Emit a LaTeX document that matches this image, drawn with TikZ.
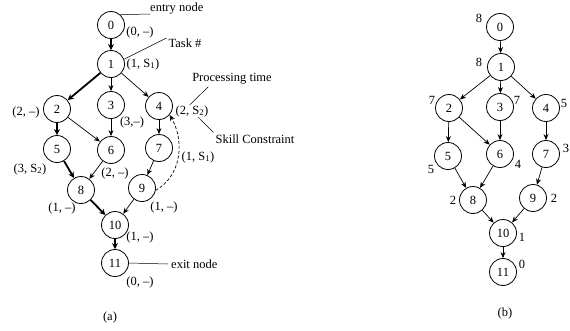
\documentclass[tikz,border=0pt]{standalone}
\usepackage{fontspec}
\setmainfont{Liberation Serif}
\usetikzlibrary{arrows.meta,positioning,calc}

\begin{document}
\begin{tikzpicture}[x=1pt, y=1pt,
  font=\fontsize{12.5}{15}\selectfont,
  task/.style={draw, circle, minimum size=27pt, inner sep=0pt, line width=0.8pt},
  attr/.style={inner sep=0pt},
  note/.style={inner sep=2pt},
  ptr/.style={->, >={Stealth[length=6pt, width=5pt]}, line width=0.7pt},
  crit/.style={->, >={Stealth[length=6pt, width=6pt]}, line width=1.8pt},
  pin/.style={line width=0.5pt}
]
\useasboundingbox (0,0) rectangle (570,-330);

% (a) task graph
\node[task] (a0) at (111,-25) {0};
\node[task] (a1) at (111,-64) {1};
\node[task] (a2) at (57,-109) {2};
\node[task] (a3) at (111,-105) {3};
\node[task] (a4) at (159,-106) {4};
\node[task] (a5) at (57,-149) {5};
\node[task] (a6) at (111,-150) {6};
\node[task] (a7) at (159,-148) {7};
\node[task] (a8) at (81,-190) {8};
\node[task] (a9) at (142,-188) {9};
\node[task] (a10) at (115,-225) {10};
\node[task] (a11) at (115,-263) {11};

\node[attr] (la0) at (140,-32) {(0, –)};
\node[attr] (la1) at (143,-64) {(1, S\textsubscript{1})};
\node[attr] (la2) at (26,-112) {(2, –)};
\node[attr] (la3) at (132,-122) {(3,–)};
\node[attr] (la4) at (192,-111) {(2, S\textsubscript{2})};
\node[attr] (la5) at (30,-169) {(3, S\textsubscript{2})};
\node[attr] (la6) at (115,-173) {(2, –)};
\node[attr] (la7) at (198,-157) {(1, S\textsubscript{1})};
\node[attr] (la8) at (62,-208) {(1, –)};
\node[attr] (la9) at (164,-207) {(1, –)};
\node[attr] (la10) at (140,-237) {(1, –)};
\node[attr] (la11) at (140,-282) {(0, –)};

\node[attr, anchor=south west] (entry) at (150,-14) {entry node};
\node[note] (tasknum) at (185,-43) {Task \#};
\node[note] (ptime) at (232,-79) {Processing time};
\node[note] (skill) at (255,-139) {Skill Constraint};
\node[note, inner sep=3pt, anchor=west] (exitn) at (168,-264) {exit node};

\draw[pin] (a0.48) -- (entry.south west);
\draw[pin] (a1.20) -- (tasknum.165);
\draw[pin] (la4.north west) ++(14,0) -- (ptime.198);
\draw[pin] (la4.south) ++(6,0) -- (skill.north west);
\draw[pin] (a11.east) -- (exitn.west);

\draw[crit] (a0) -- (a1);
\draw[crit] (a1) -- (a2);
\draw[ptr] (a1) -- (a3);
\draw[ptr] (a1) -- (a4);
\draw[crit] (a2) -- (a5);
\draw[ptr] (a2) -- (a6);
\draw[ptr] (a3) -- (a6);
\draw[ptr] (a4) -- (a7);
\draw[crit] (a5) -- (a8);
\draw[ptr] (a6) -- (a8);
\draw[ptr] (a7) -- (a9);
\draw[crit] (a8) -- (a10);
\draw[ptr] (a9) -- (a10);
\draw[crit] (a10) -- (a11);
\draw[ptr, dash pattern=on 3pt off 2pt] (a9.-10) to[out=30, in=-60] (a4.-40);

\node (capa) at (110,-317) {(a)};

% (b) priority values
\node[task] (b0) at (500,-27) {0};
\node[task] (b1) at (501,-67) {1};
\node[task] (b2) at (449,-108) {2};
\node[task] (b3) at (500,-107) {3};
\node[task] (b4) at (546,-108) {4};
\node[task] (b5) at (448,-156) {5};
\node[task] (b6) at (500,-154) {6};
\node[task] (b7) at (546,-154) {7};
\node[task] (b8) at (473,-200) {8};
\node[task] (b9) at (533,-198) {9};
\node[task] (b10) at (503,-233) {10};
\node[task] (b11) at (503,-272) {11};

\node[attr] (nb0) at (479,-18) {8};
\node[attr] (nb1) at (479,-62) {8};
\node[attr] (nb2) at (432,-100) {7};
\node[attr] (nb3) at (517,-100) {7};
\node[attr] (nb4) at (564,-103) {5};
\node[attr] (nb5) at (431,-169) {5};
\node[attr] (nb6) at (518,-164) {4};
\node[attr] (nb7) at (566,-148) {3};
\node[attr] (nb8) at (453,-200) {2};
\node[attr] (nb9) at (554,-198) {2};
\node[attr] (nb10) at (522,-237) {1};
\node[attr] (nb11) at (522,-264) {0};

\draw[ptr] (b0) -- (b1);
\draw[ptr] (b1) -- (b2);
\draw[ptr] (b1) -- (b3);
\draw[ptr] (b1) -- (b4);
\draw[ptr] (b2) -- (b5);
\draw[ptr] (b2) -- (b6);
\draw[ptr] (b3) -- (b6);
\draw[ptr] (b4) -- (b7);
\draw[ptr] (b5) -- (b8);
\draw[ptr] (b6) -- (b8);
\draw[ptr] (b7) -- (b9);
\draw[ptr] (b8) -- (b10);
\draw[ptr] (b9) -- (b10);
\draw[ptr] (b10) -- (b11);

\node (capb) at (505,-313) {(b)};
\end{tikzpicture}
\end{document}
